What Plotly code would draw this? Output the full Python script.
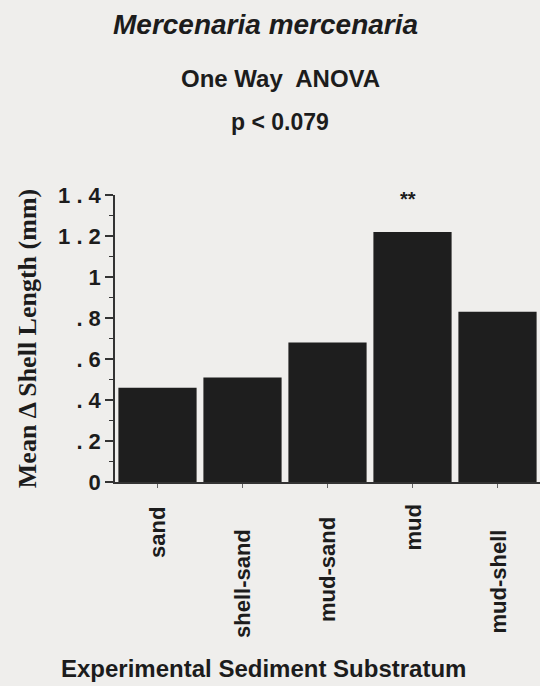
import plotly.graph_objects as go

categories = ["sand", "shell-sand", "mud-sand", "mud", "mud-shell"]
mean_change = [0.46, 0.51, 0.68, 1.22, 0.83]
ytick_vals = [0, 0.2, 0.4, 0.6, 0.8, 1.0, 1.2, 1.4]
ytick_text = ["0", ". 2", ". 4", ". 6", ". 8", "1", "1 . 2", "1 . 4"]
sig_label = "**"
sig_category = "mud"

# styling: top of each rotated category label, in pixels from the top of the page
label_top_px = [505, 527, 515, 503, 528]

bg = "#efeeec"
ink = "#1c1c1c"
W, H = 540, 686
ML, MR, MT, MB = 115, 0, 195, 204
PW, PH = W - ML - MR, H - MT - MB


def px_to_paper(px, py):
    return (px - ML) / PW, (H - MB - py) / PH


fig = go.Figure()
fig.add_trace(go.Bar(
    x=categories, y=mean_change,
    marker=dict(color="#1e1e1e", line=dict(width=0)),
    showlegend=False,
))

fig.add_annotation(x=sig_category, y=mean_change[categories.index(sig_category)],
                   text="<b>%s</b>" % sig_label, showarrow=False, yanchor="bottom",
                   yshift=20, xshift=-5,
                   font=dict(family="Liberation Sans", size=20, color=ink))

# category labels (rotated)
for cat, top in zip(categories, label_top_px):
    fig.add_annotation(x=cat, xref="x", yref="paper", y=px_to_paper(0, top)[1],
                       text="<b>%s</b>" % cat, textangle=-90, showarrow=False,
                       xanchor="center", yanchor="top",
                       font=dict(family="Liberation Sans", size=22, color=ink))

titles = [
    ("<b><i>Mercenaria mercenaria</i></b>", 265, 24, 28),
    ("<b>One Way  ANOVA</b>", 280, 78, 24),
    ("<b>p &lt; 0.079</b>", 280, 122, 23),
    ("<b>Experimental Sediment Substratum</b>", 263, 668, 24),
]
for txt, px, py, sz in titles:
    xx, yy = px_to_paper(px, py)
    fig.add_annotation(text=txt, xref="paper", yref="paper", x=xx, y=yy,
                       xanchor="center", yanchor="middle", showarrow=False,
                       font=dict(family="Liberation Sans", size=sz, color=ink))

fig.update_layout(
    width=W, height=H,
    paper_bgcolor=bg, plot_bgcolor=bg,
    margin=dict(l=ML, r=MR, t=MT, b=MB),
    bargap=0.08,
    font=dict(family="Liberation Sans", color=ink),
)

fig.update_xaxes(
    range=[-0.5, 4.5], showline=True, linecolor="#333", linewidth=1.5,
    ticks="outside", ticklen=4, tickcolor="#666",
    showticklabels=False, showgrid=False, zeroline=False,
)
fig.update_yaxes(
    range=[0, 1.4], showline=True, linecolor="#333", linewidth=1.5,
    ticks="outside", ticklen=8, tickcolor="#333", tickwidth=1.5,
    tickvals=ytick_vals, ticktext=["<b>%s</b>" % t for t in ytick_text],
    tickfont=dict(family="Liberation Sans", size=22, color=ink),
    minor=dict(dtick=0.1, ticks="outside", ticklen=4, tickcolor="#333", tickwidth=1.2),
    showgrid=False, zeroline=False,
    title=dict(text="<b>Mean Δ Shell Length (mm)</b>", standoff=14,
               font=dict(family="Liberation Serif", size=26, color=ink)),
)

fig.write_html("out.html", config={"displayModeBar": False},
               post_script="document.body.style.margin='0';"
                           "document.body.style.background='%s';" % bg)
